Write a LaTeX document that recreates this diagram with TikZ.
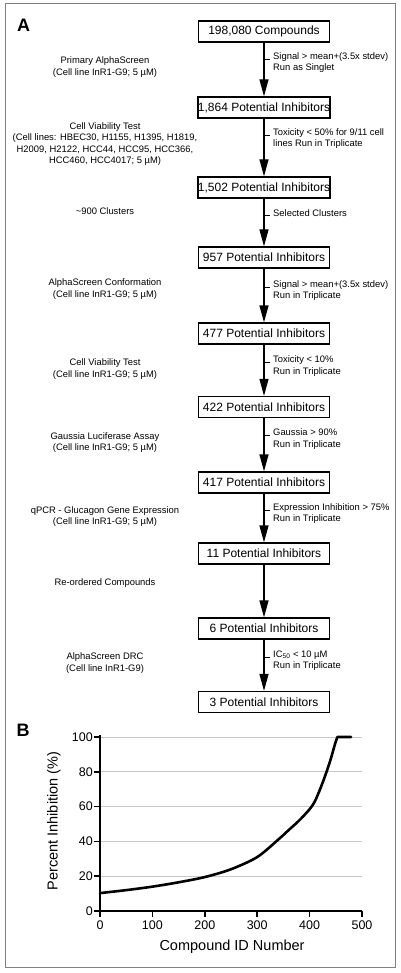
\documentclass[tikz,border=0pt]{standalone}
\usepackage{fontspec}
\setmainfont{Liberation Sans}
\usepackage{xcolor}
\usepackage{tikz}
\usetikzlibrary{arrows.meta}
\definecolor{framegray}{HTML}{808080}
\definecolor{gridgray}{HTML}{C8C8C8}
\tikzset{
  stage/.style={draw=black, line width=1.3pt, minimum width=131pt, minimum height=21pt, inner sep=0pt, font=\fontsize{12}{14}\selectfont},
  flow/.style={draw=black, line width=1.3pt, -{Triangle[length=17pt,width=9pt]}},
  tickmark/.style={draw=black, line width=0.9pt},
  assay/.style={align=center, inner sep=0pt, font=\fontsize{9.4}{11.6}\selectfont},
  crit/.style={align=left, anchor=west, inner sep=0pt, font=\fontsize{9.4}{11.2}\selectfont},
  panel/.style={font=\fontsize{18}{20}\selectfont\bfseries},
  axisline/.style={draw=black, line width=2.2pt},
  gridline/.style={draw=gridgray, line width=0.9pt},
  ticklab/.style={inner sep=0pt, font=\fontsize{12.5}{14}\selectfont},
  axtitle/.style={inner sep=0pt, font=\fontsize{14.5}{16}\selectfont},
  curve/.style={draw=black, line width=2.6pt, line cap=round, line join=round},
}

\begin{document}
\begin{tikzpicture}[x=1pt, y=-1pt]
  \useasboundingbox[fill=white] (0,0) rectangle (400,973);
  \draw[framegray, line width=1pt] (5,4) rectangle (395,967);

  % A: screening cascade
  \node[panel] (pa) at (23.5,25) {A};

  \node[stage] (s0) at (264,31.5)  {198,080 Compounds};
  \node[stage] (s1) at (264,107.5) {1,864 Potential Inhibitors};
  \node[stage] (s2) at (264,187.5) {1,502 Potential Inhibitors};
  \node[stage] (s3) at (264,257.5) {957 Potential Inhibitors};
  \node[stage] (s4) at (264,333.5) {477 Potential Inhibitors};
  \node[stage] (s5) at (264,407)   {422 Potential Inhibitors};
  \node[stage] (s6) at (264,482.5) {417 Potential Inhibitors};
  \node[stage] (s7) at (264,553.5) {11 Potential Inhibitors};
  \node[stage] (s8) at (264,628.5) {6 Potential Inhibitors};
  \node[stage] (s9) at (264,702)   {3 Potential Inhibitors};

  \foreach \a/\b in {s0/s1,s1/s2,s2/s3,s3/s4,s4/s5,s5/s6,s6/s7,s7/s8,s8/s9}
    \draw[flow] (\a) -- (\b);

  \node[assay] (l1) at (105,67)    {Primary AlphaScreen\\(Cell line InR1-G9; 5 µM)};
  \node[assay] (l2) at (105,144)   {Cell Viability Test\\(Cell lines: HBEC30, H1155, H1395, H1819,\\H2009, H2122, HCC44, HCC95, HCC366,\\HCC460, HCC4017; 5 µM)};
  \node[assay] (l3) at (105,211)   {\textasciitilde900 Clusters};
  \node[assay] (l4) at (105,289)   {AlphaScreen Conformation\\(Cell line InR1-G9; 5 µM)};
  \node[assay] (l5) at (105,369)   {Cell Viability Test\\(Cell line InR1-G9; 5 µM)};
  \node[assay] (l6) at (105,442.5) {Gaussia Luciferase Assay\\(Cell line InR1-G9; 5 µM)};
  \node[assay] (l7) at (105,516.5) {qPCR - Glucagon Gene Expression\\(Cell line InR1-G9; 5 µM)};
  \node[assay] (l8) at (105,583)   {Re-ordered Compounds};
  \node[assay] (l9) at (105,663)   {AlphaScreen DRC\\(Cell line InR1-G9)};

  \node[crit] (r1) at (273,62.5)  {Signal > mean+(3.5x stdev)\\Run as Singlet};
  \node[crit] (r2) at (273,138.5) {Toxicity < 50\% for 9/11 cell\\lines Run in Triplicate};
  \node[crit] (r3) at (273,213)   {Selected Clusters};
  \node[crit] (r4) at (273,290.5) {Signal > mean+(3.5x stdev)\\Run in Triplicate};
  \node[crit] (r5) at (273,366)   {Toxicity < 10\%\\Run in Triplicate};
  \node[crit] (r6) at (273,439)   {Gaussia > 90\%\\Run in Triplicate};
  \node[crit] (r7) at (273,513.5) {Expression Inhibition > 75\%\\Run in Triplicate};
  \node[crit] (r9) at (273,660.5) {IC\textsubscript{50} < 10 µM\\Run in Triplicate};

  \foreach \y in {59.5,135.5,215.5,287.5,362.5,435.5,510.5,657.5}
    \draw[tickmark] (264,\y) -- (270,\y);

  % B: percent inhibition of the hits
  \node[panel] (pb) at (23,730.5) {B};

  \begin{scope}[shift={(100,911)}, x=0.524pt, y=1.74pt]
    \foreach \v in {20,40,60,80,100}
      \draw[gridline] (0,\v) -- (500,\v);
    \draw[curve] plot[smooth, tension=0.5] coordinates {(0,10.3) (50,12) (100,14) (150,16.5) (200,19.5) (250,24) (300,31) (340,41) (360,46.5) (380,52) (400,58.5) (410,63) (420,70) (430,78) (440,87) (448,95.5) (453,100)} -- (479,100);
    \draw[axisline] (0,101) -- (0,0) -- (500,0);
    \foreach \v in {0,20,40,60,80,100} {
      \draw[axisline, line width=1.6pt] (0,\v) -- ++(-6pt,0);
      \node[ticklab, anchor=east] (y\v) at ([xshift=-7pt]0,\v) {\v};
    }
    \foreach \v in {0,100,200,300,400,500} {
      \draw[axisline, line width=1.6pt] (\v,0) -- ++(0,-6pt);
      \node[ticklab, anchor=north] (x\v) at ([yshift=-10pt]\v,0) {\v};
    }
    \node[axtitle] (xt) at (252,-20.7) {Compound ID Number};
    \node[axtitle, rotate=90] (yt) at (-88,51.7) {Percent Inhibition (\%)};
  \end{scope}
\end{tikzpicture}
\end{document}
